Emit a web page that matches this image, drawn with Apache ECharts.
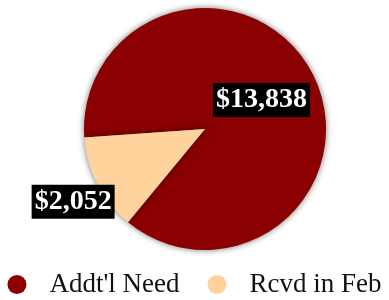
<!DOCTYPE html>
<html>
<head>
<meta charset="utf-8">
<script src="https://cdn.jsdelivr.net/npm/echarts@6/dist/echarts.min.js"></script>
<style>
  html, body { margin: 0; padding: 0; background: #fff; }
  #chart { width: 389px; height: 300px; }
</style>
</head>
<body>
<div id="chart"></div>
<script>
const categories = ["Addt'l Need", 'Rcvd in Feb']
const values = [13838, 2052]
const colors = ['#8b0000', '#ffd39b']

const chart = echarts.init(document.getElementById('chart'))

const money = v => '$' + v.toLocaleString('en-US')

const pieData = categories.map((name, i) => {
    const item = { name: name, value: values[i], itemStyle: { color: colors[i] } }
    if (i === 1) {
        // small slice: label sits outside, no line
        item.label = { position: 'outside', distanceToLabelLine: -51 }
        item.labelLine = { show: false, length: 38, length2: 0 }
    }
    return item
})

chart.setOption({
    animation: false,
    legend: {
        data: categories,
        left: 'center',
        top: 271,
        padding: 0,
        icon: 'circle',
        itemWidth: 19,
        itemHeight: 19,
        itemGap: 28,
        textStyle: {
            fontFamily: 'Liberation Serif',
            fontSize: 27,
            color: '#111',
            padding: [0, 0, 0, 18]
        }
    },
    series: [
        {
            type: 'pie',
            center: [205, 129],
            radius: 121,
            startAngle: 184,
            clockwise: true,
            data: pieData,
            itemStyle: {
                shadowBlur: 6,
                shadowColor: 'rgba(0,0,0,0.55)'
            },
            label: {
                show: true,
                position: 'inside',
                formatter: p => money(p.value),
                fontFamily: 'Liberation Serif',
                fontWeight: 'bold',
                fontSize: 28,
                color: '#fff',
                backgroundColor: '#000',
                padding: [3, 3]
            },
            emphasis: { disabled: true }
        }
    ]
})
</script>
</body>
</html>
